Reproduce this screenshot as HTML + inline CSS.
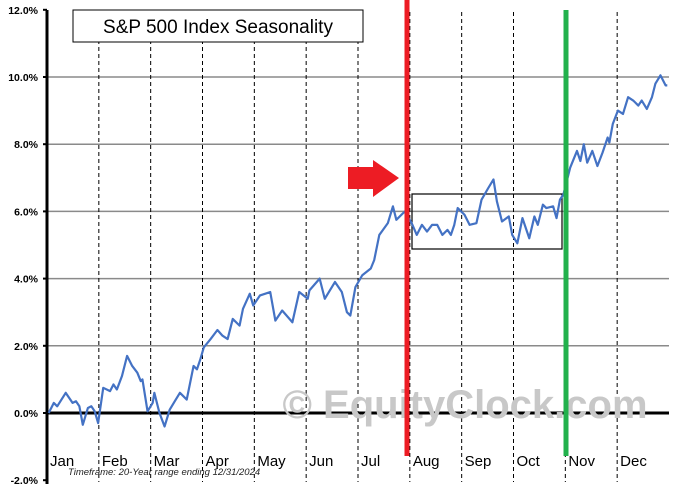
<!DOCTYPE html>
<html><head><meta charset="utf-8"><style>
body{margin:0;background:#fff;}
svg text{font-family:"Liberation Sans",sans-serif;}
</style></head><body>
<svg width="675" height="490" viewBox="0 0 675 490" xmlns="http://www.w3.org/2000/svg">
<g id="grid"></g>
<text x="465" y="418" font-size="40" font-weight="bold" fill="#c8c8c8" text-anchor="middle">© EquityClock.com</text>
<g id="marks"></g>
<rect x="73" y="10" width="290" height="32" fill="#fff" stroke="#000" stroke-width="1"/>
<text x="218" y="33" font-size="19" text-anchor="middle" fill="#000">S&amp;P 500 Index Seasonality</text>
<text x="68" y="475" font-size="9.5" font-style="italic" fill="#222">Timeframe: 20-Year range ending 12/31/2024</text>
</svg>
<script>
const monthLabels=["Jan","Feb","Mar","Apr","May","Jun","Jul","Aug","Sep","Oct","Nov","Dec"];
const yTicks=[-2,0,2,4,6,8,10,12];
const days=[1,4,6,11,15,17,19,21,24,26,28,30,33,37,39,41,44,47,50,53,55,56,59,62,63,66,69,72,75,78,82,86,88,90,92,96,100,103,106,109,113,115,119,121,125,131,134,138,144,148,153,154,160,163,169,173,176,178,181,185,190,192,195,200,203,205,210,214,217,220,223,226,229,232,235,237,239,241,245,248,252,255,259,262,264,267,271,273,276,279,282,283,286,288,291,293,297,299,301,303,307,311,313,315,317,320,323,326,329,330,332,335,338,341,344,347,349,352,355,357,360,363,364];
const values=[0.0,0.3,0.2,0.6,0.3,0.35,0.2,-0.35,0.15,0.2,0.05,-0.3,0.75,0.65,0.85,0.7,1.1,1.7,1.4,1.2,0.95,1.0,0.05,0.3,0.6,0.0,-0.4,0.1,0.35,0.6,0.4,1.4,1.3,1.6,1.95,2.2,2.47,2.3,2.2,2.8,2.6,3.1,3.55,3.2,3.5,3.6,2.75,3.05,2.7,3.6,3.4,3.65,4.0,3.4,3.9,3.6,3.0,2.9,3.75,4.1,4.3,4.55,5.3,5.65,6.15,5.75,6.0,5.65,5.3,5.6,5.4,5.6,5.6,5.3,5.45,5.3,5.6,6.1,5.9,5.6,5.65,6.35,6.7,6.95,6.3,5.7,5.85,5.3,5.05,5.8,5.35,5.2,5.85,5.6,6.2,6.1,6.15,5.8,6.35,6.5,7.3,7.8,7.5,8.0,7.45,7.8,7.35,7.75,8.2,8.05,8.6,9.0,8.9,9.4,9.3,9.15,9.3,9.05,9.4,9.8,10.05,9.75,9.75];
const x0=47,x1=669;
const X=d=>x0+(d/365)*(x1-x0);
const Y=v=>413-v*33.6;
const NS="http://www.w3.org/2000/svg";
function mk(tag,attrs,parent){const e=document.createElementNS(NS,tag);for(const k in attrs)e.setAttribute(k,attrs[k]);parent.appendChild(e);return e;}
const grid=document.getElementById('grid'),marks=document.getElementById('marks');
yTicks.forEach(v=>{
  if(v>0&&v<12){const l=mk('line',{x1:x0,x2:x1,y1:Y(v),y2:Y(v),stroke:'#8a8a8a','stroke-width':1.5},grid);
  
  }
  const t=mk('text',{x:38,y:Y(v)+4,'font-size':10.5,'font-weight':'bold','text-anchor':'end',fill:'#000'},grid);
  t.textContent=v.toFixed(1)+'%';
  
  
  const tk=mk('line',{x1:x0-4,x2:x0,y1:Y(v),y2:Y(v),stroke:'#000','stroke-width':2},grid);
  
  
});
monthLabels.forEach((m,i)=>{
  const xs=x0+i*(x1-x0)/12;
  if(i>0){const l=mk('line',{x1:xs,x2:xs,y1:12,y2:482,stroke:'#000','stroke-width':1,'stroke-dasharray':'4,3'},grid);
  
  }
  const t=mk('text',{x:xs+3,y:466,'font-size':15,fill:'#000'},grid);
  t.textContent=m;
  
  
});
const ax=mk('line',{x1:x0,x2:x0,y1:10,y2:484,stroke:'#000','stroke-width':3},grid);


const zx=mk('line',{x1:x0,x2:x1,y1:Y(0),y2:Y(0),stroke:'#000','stroke-width':3},grid);


// box
const bx=mk('rect',{x:412,y:194,width:150,height:55,fill:'none',stroke:'#000','stroke-width':1.2},marks);


// line
const pl=mk('polyline',{points:days.map((d,i)=>X(d)+','+Y(values[i])).join(' '),fill:'none',stroke:'#4472c4','stroke-width':2.2,'stroke-linejoin':'round'},marks);


const rl=mk('rect',{x:404.5,y:0,width:5,height:456,fill:'#ed1c24'},marks);


const gl=mk('rect',{x:563.5,y:10,width:5,height:446,fill:'#22b14c'},marks);


const ar=mk('polygon',{points:'348,167 373,167 373,160 399,178 373,197 373,189 348,189',fill:'#ed1c24'},marks);


</script>
</body></html>
